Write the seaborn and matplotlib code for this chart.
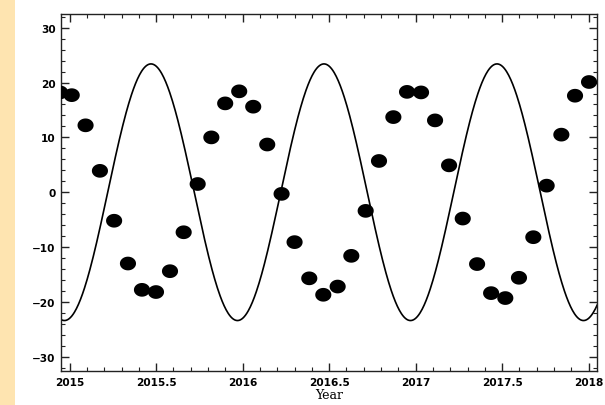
import numpy as np
import pandas as pd
import matplotlib
matplotlib.use("Agg")
import matplotlib.pyplot as plt
import seaborn as sns
from matplotlib.patches import Rectangle
from matplotlib.ticker import MultipleLocator

obs_year = [2014.945, 2015.012, 2015.092, 2015.175, 2015.257, 2015.337, 2015.418,
            2015.499, 2015.580, 2015.659, 2015.740, 2015.819, 2015.899, 2015.980,
            2016.061, 2016.142, 2016.225, 2016.300, 2016.385, 2016.466, 2016.549,
            2016.628, 2016.711, 2016.788, 2016.871, 2016.950, 2017.031, 2017.112,
            2017.193, 2017.272, 2017.355, 2017.436, 2017.518, 2017.597, 2017.680,
            2017.757, 2017.842, 2017.921, 2018.002]
obs_dec = [18.2, 17.7, 12.2, 3.9, -5.2, -13.0, -17.8,
           -18.2, -14.4, -7.3, 1.5, 10.0, 16.2, 18.4,
           15.6, 8.7, -0.3, -9.1, -15.7, -18.7, -17.2,
           -11.6, -3.4, 5.7, 13.7, 18.3, 18.2, 13.1,
           4.9, -4.8, -13.1, -18.4, -19.3, -15.6, -8.2,
           1.2, 10.5, 17.6, 20.1]

x_ticks = [2015, 2015.5, 2016, 2016.5, 2017, 2017.5, 2018]
x_labels = ["2015", "2015.5", "2016", "2016.5", "2017", "2017.5", "2018"]

# Reference curve (sun declination), amplitude and phase
curve_amp = 23.4
curve_min_year = 2014.97
curve_start, curve_end = 2014.95, 2018.05

obs = pd.DataFrame({"Year": obs_year, "Declination": obs_dec})
t = np.linspace(curve_start, curve_end, 800)
curve = pd.DataFrame({"Year": t,
                      "Declination": -curve_amp * np.cos(2 * np.pi * (t - curve_min_year))})

sns.set_style("ticks")
plt.rcParams["font.family"] = ["DejaVu Sans"]
plt.rcParams["text.color"] = "black"
plt.rcParams["axes.labelcolor"] = "black"

fig = plt.figure(figsize=(6.05, 4.06), dpi=100)
fig.patches.append(Rectangle((0, 0), 15 / 605, 1, transform=fig.transFigure,
                             facecolor="#FEE4B0", edgecolor="none", zorder=0))
ax = fig.add_axes([61 / 605, 34 / 406, 536 / 605, 357 / 406])

sns.lineplot(data=curve, x="Year", y="Declination", color="black", linewidth=1.2, ax=ax)

# slightly flattened dots like the original
th = np.linspace(0, 2 * np.pi, 40)
ellipse = np.column_stack([np.cos(th), 0.85 * np.sin(th)])
sns.scatterplot(data=obs, x="Year", y="Declination", marker=ellipse, s=135,
                color="black", edgecolor="none", ax=ax, zorder=3)

ax.set_xlim(2014.95, 2018.048)
ax.set_ylim(-32.6, 32.5)
ax.xaxis.set_minor_locator(MultipleLocator(0.1))
ax.yaxis.set_major_locator(MultipleLocator(10))
ax.yaxis.set_minor_locator(MultipleLocator(2))
ax.set_xticks(x_ticks)
ax.set_xticklabels(x_labels)
ax.tick_params(which="both", direction="in", top=True, right=True, color="#222222",
               labelcolor="black", labelsize=7.6, pad=4)
ax.tick_params(which="major", length=6, width=1)
ax.tick_params(which="minor", length=3, width=0.8)
for lab in ax.get_xticklabels() + ax.get_yticklabels():
    lab.set_fontweight("bold")
for sp in ax.spines.values():
    sp.set_visible(True)
    sp.set_linewidth(1)
    sp.set_color("#222222")

ax.set_xlabel("Year", family=["DejaVu Serif"], fontsize=9, labelpad=1)
ax.set_ylabel("Declination", fontsize=7.2, fontweight="bold", labelpad=14)

fig.savefig("out.png", dpi=100)
